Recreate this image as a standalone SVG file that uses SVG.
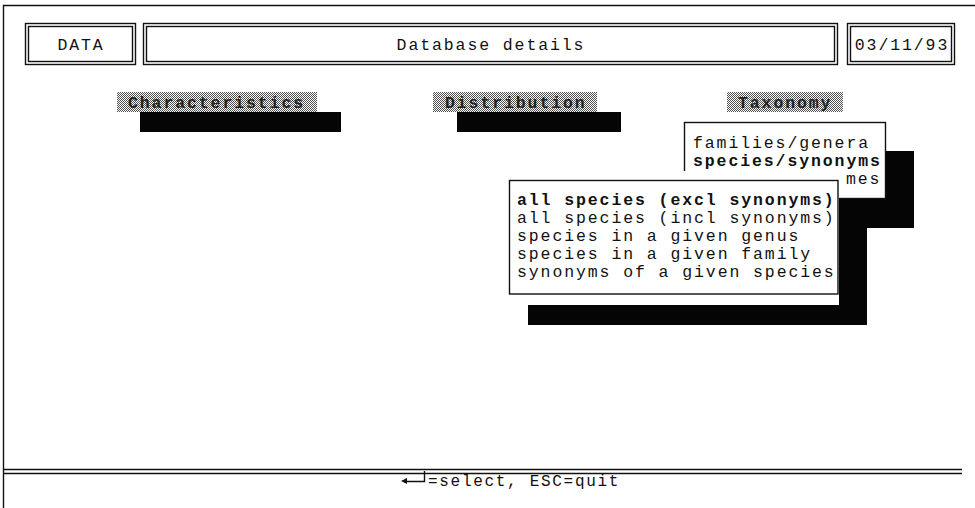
<svg xmlns="http://www.w3.org/2000/svg" width="975" height="508" viewBox="0 0 975 508">
  <defs>
    <!-- halftone fill used behind the menu titles -->
    <pattern id="dither" width="2" height="2" patternUnits="userSpaceOnUse">
      <rect width="2" height="2" fill="#ffffff"/>
      <rect x="0" y="0" width="1" height="1" fill="#505050"/>
      <rect x="1" y="1" width="1" height="1" fill="#505050"/>
    </pattern>
  </defs>
  <style>
    .line { fill: none; stroke: #111; stroke-width: 1.4; }
    .win { fill: #ffffff; }
    .win-border { fill: #ffffff; stroke: #111; stroke-width: 1.4; }
    .shadow { fill: #050505; }
    .mono { font-family: "Liberation Mono", "DejaVu Sans Mono", monospace; font-size: 16.5px; letter-spacing: 1.9px; fill: #111; }
    .bold { font-weight: bold; }
    .title { font-family: "Liberation Mono", "DejaVu Sans Mono", monospace; font-size: 16.5px; letter-spacing: 1.9px; font-weight: bold; fill: #222; }
    .foot { font-family: "Liberation Mono", "DejaVu Sans Mono", monospace; font-size: 16px; letter-spacing: 1.7px; fill: #111; }
  </style>

  <rect width="975" height="508" fill="#ffffff"/>

  <!-- screen frame -->
  <g id="frame">
    <path class="line" d="M3.5,508 V5.5 H975"/>
  </g>

  <!-- header bar -->
  <g id="hdr-data">
    <rect class="line" x="25.5" y="23.5" width="110" height="41"/>
    <rect class="line" x="28.5" y="26.5" width="104" height="35"/>
    <text class="mono" x="81" y="50" text-anchor="middle">DATA</text>
  </g>
  <g id="hdr-title">
    <rect class="line" x="143.5" y="23.5" width="694" height="41"/>
    <rect class="line" x="146.5" y="26.5" width="688" height="35"/>
    <text class="mono" x="491" y="50" text-anchor="middle">Database details</text>
  </g>
  <g id="hdr-date">
    <rect class="line" x="847.5" y="23.5" width="107" height="41"/>
    <rect class="line" x="850.5" y="26.5" width="101" height="35"/>
    <text class="mono" x="902" y="50" text-anchor="middle">03/11/93</text>
  </g>

  <!-- menu bar -->
  <g id="menu-characteristics">
    <rect class="shadow" x="140" y="112" width="201" height="20"/>
    <rect x="117" y="92" width="200" height="20" fill="url(#dither)"/>
    <text class="title" x="128" y="108">Characteristics</text>
  </g>
  <g id="menu-distribution">
    <rect class="shadow" x="457" y="112" width="164" height="20"/>
    <rect x="433" y="92" width="164" height="20" fill="url(#dither)"/>
    <text class="title" x="445" y="108">Distribution</text>
  </g>
  <g id="menu-taxonomy">
    <rect x="727" y="92" width="116" height="20" fill="url(#dither)"/>
    <text class="title" x="738" y="108">Taxonomy</text>
  </g>

  <!-- Taxonomy drop-down -->
  <g id="taxonomy-list">
    <rect class="shadow" x="714" y="151" width="200" height="77"/>
    <rect class="win-border" x="684.5" y="122.5" width="201" height="76"/>
    <text class="mono" x="693" y="148">families/genera</text>
    <text class="mono bold" x="693" y="166">species/synonyms</text>
    <text class="mono" x="846" y="184">mes</text>
  </g>

  <!-- species/synonyms sub-menu -->
  <g id="species-list">
    <rect class="shadow" x="528" y="200" width="339" height="125"/>
    <rect class="win" x="504" y="171" width="335" height="134"/>
    <rect class="line" x="509.5" y="180.5" width="328.5" height="113.5"/>
    <text class="mono bold" x="517" y="205">all species (excl synonyms)</text>
    <text class="mono" x="517" y="223">all species (incl synonyms)</text>
    <text class="mono" x="517" y="241">species in a given genus</text>
    <text class="mono" x="517" y="259">species in a given family</text>
    <text class="mono" x="517" y="277">synonyms of a given species</text>
  </g>

  <!-- status line -->
  <g id="status">
    <path class="line" d="M3,469.5 H962 M3,473.5 H962"/>
    <path d="M401,481 L407,478 L407,484 Z" fill="#111"/>
    <path class="line" d="M406,481.5 H424.5 V471"/>
    <text class="foot" x="428" y="486">=select, ESC=quit</text>
  </g>
</svg>
